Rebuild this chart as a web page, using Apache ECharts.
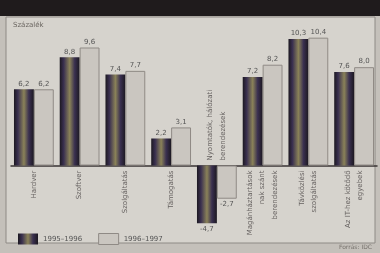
<!DOCTYPE html>
<html><head><meta charset="utf-8">
<script src="https://cdn.jsdelivr.net/npm/echarts@6/dist/echarts.min.js"></script>
<style>html,body{margin:0;padding:0;background:#c4c0ba}#c{width:380px;height:253px}</style>
</head><body><div id="c"></div>
<script>
var categories = ['Hardver','Szoftver','Szolgáltatás','Támogatás','Nyomtatók, hálózati\nberendezések','Magánháztartások\nnak szánt\nberendezések','Távközlési\nszolgáltatás','Az IT-hez kötődő\negyebek'];
var series1995 = [6.2, 8.8, 7.4, 2.2, -4.7, 7.2, 10.3, 7.6];
var series1996 = [6.2, 9.6, 7.7, 3.1, -2.7, 8.2, 10.4, 8.0];
var seriesNames = ['1995–1996', '1996–1997'];
var fmt = function(v){ return v.toFixed(1).replace('.', ','); };

var chart = echarts.init(document.getElementById('c'), null, {renderer:'canvas'});
var darkFill = new echarts.graphic.LinearGradient(0,0,1,0,[
  {offset:0,color:'#1c1820'},{offset:0.2,color:'#3a3050'},{offset:0.5,color:'#8a8258'},
  {offset:0.75,color:'#3a3050'},{offset:1,color:'#1c1820'}]);
var labelData = categories.map(function(c,i){
  var neg = series1995[i] < 0;
  return {value:[i,0], label:{align: neg ? 'left' : 'right', position: neg ? [0,-5] : [0,5]}};
});
function barData(arr){
  return arr.map(function(v){ return {value:v, label:{position: v < 0 ? 'bottom' : 'top'}}; });
}
var valLabel = {show:true, fontSize:7, color:'#555', fontFamily:'DejaVu Sans', distance:2,
  formatter:function(p){return fmt(p.value);}};
chart.setOption({
  backgroundColor:'#c4c0ba',
  animation:false,
  graphic:[
    {type:'rect', shape:{x:0,y:0,width:380,height:16}, style:{fill:'#1f1b1c'}, z:-10},
    {type:'rect', shape:{x:6,y:17,width:369,height:226}, style:{fill:'#d6d3cd', stroke:'#8e8a85', lineWidth:1}, z:-10},
    {type:'text', left:13, top:22, style:{text:'Százalék', fill:'#6a6560', font:'7px "DejaVu Sans"'}},
    {type:'text', right:8, top:244, style:{text:'Forrás: IDC', fill:'#77726d', font:'6px "DejaVu Sans"'}}
  ],
  legend:{
    left:13, top:228, itemWidth:20, itemHeight:11, itemGap:16, icon:'rect',
    textStyle:{fontSize:7, color:'#555', fontFamily:'DejaVu Sans'},
    data:[{name:seriesNames[0], itemStyle:{color:darkFill}}, {name:seriesNames[1], itemStyle:{color:'#cac6c0', borderColor:'#8f8a85', borderWidth:1}}]
  },
  grid:{left:11, width:366, top:18, height:209, containLabel:false},
  xAxis:{type:'category', data:categories,
    axisLine:{onZero:true, lineStyle:{color:'#3a3535', width:1.5}},
    axisTick:{show:false}, axisLabel:{show:false}, splitLine:{show:false}},
  yAxis:{type:'value', min:-5, max:12, show:false, splitLine:{show:false}},
  series:[
    {name:seriesNames[0], type:'bar', data:barData(series1995), barGap:'0%', barCategoryGap:'13%',
      itemStyle:{color:darkFill}, label:valLabel},
    {name:seriesNames[1], type:'bar', data:barData(series1996),
      itemStyle:{color:'#cac6c0', borderColor:'#8f8a85', borderWidth:1}, label:valLabel},
    {type:'scatter', data:labelData, symbolSize:0, silent:true, z:5,
      label:{show:true, rotate:90, verticalAlign:'middle', fontSize:7, lineHeight:12.5,
        color:'#4a4545', fontFamily:'DejaVu Sans',
        formatter:function(p){return categories[p.dataIndex];}}}
  ]
});
</script></body></html>
